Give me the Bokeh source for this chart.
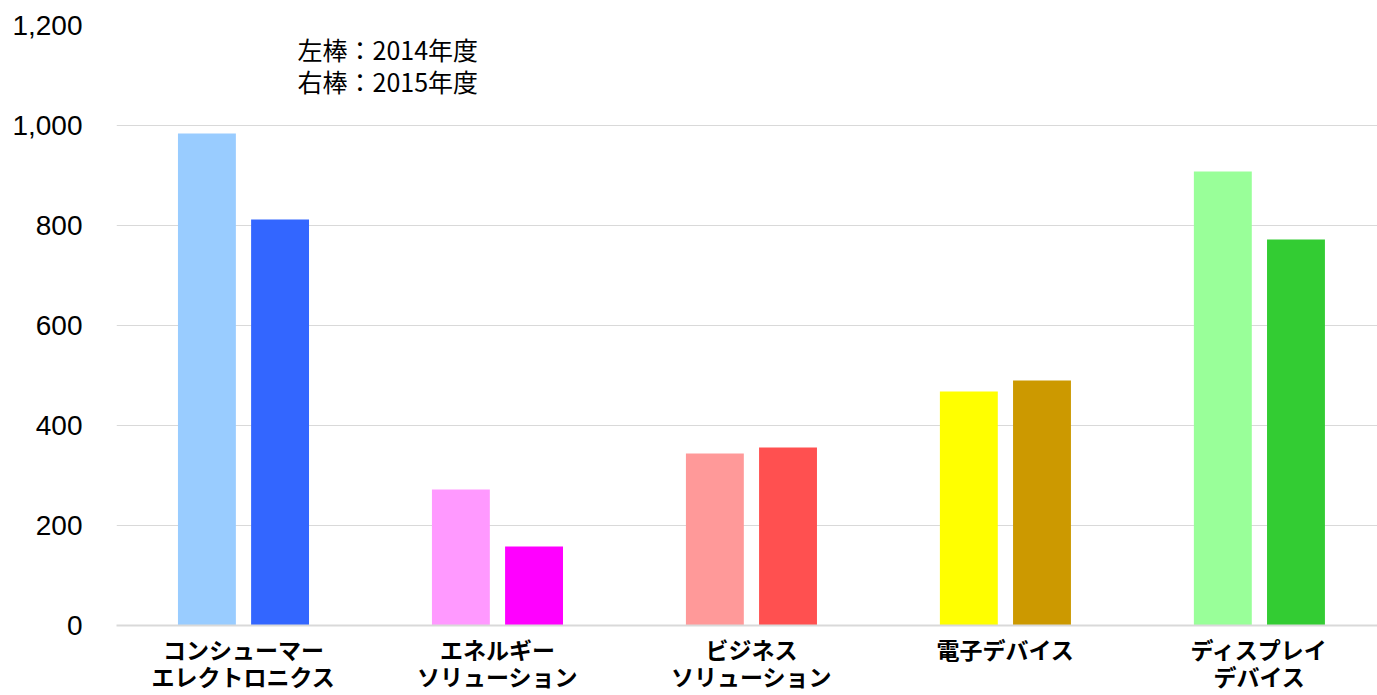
from bokeh.plotting import figure
from bokeh.models import Range1d, NumeralTickFormatter, Label, ColumnDataSource, FixedTicker
from bokeh.transform import dodge
from bokeh.embed import file_html
from bokeh.resources import INLINE

categories = ["コンシューマー\nエレクトロニクス", "エネルギー\nソリューション", "ビジネス\nソリューション", "電子デバイス", "ディスプレイ\nデバイス"]
v2014 = [984, 272, 344, 468, 908]
v2015 = [812, 158, 356, 490, 772]
c2014 = ["#99ccff", "#ff99ff", "#ff9999", "#ffff00", "#99ff99"]
c2015 = ["#3366ff", "#ff00ff", "#ff5050", "#cc9900", "#33cc33"]
yticks = [0, 200, 400, 600, 800, 1000, 1200]

xpos = [i + 0.5 for i in range(len(categories))]
src = ColumnDataSource(dict(x=xpos, v14=v2014, v15=v2015, c14=c2014, c15=c2015))

p = figure(width=1377, height=695, output_backend="svg", toolbar_location=None,
           x_range=Range1d(0, 4.965), y_range=Range1d(0, 1200))
p.min_border_left = 116
p.min_border_right = 0
p.min_border_top = 25
p.min_border_bottom = 70
p.outline_line_color = None
p.background_fill_color = "white"
p.border_fill_color = "white"

p.vbar(x=dodge("x", -0.144), top="v14", width=0.228, fill_color="c14", line_color=None, source=src)
p.vbar(x=dodge("x", 0.144), top="v15", width=0.228, fill_color="c15", line_color=None, source=src)

p.xgrid.grid_line_color = None
p.ygrid.grid_line_color = "#d9d9d9"
p.ygrid.grid_line_width = 1

p.yaxis.ticker = yticks
p.yaxis.formatter = NumeralTickFormatter(format="0,0")
p.yaxis.axis_line_color = None
p.yaxis.major_tick_line_color = None
p.yaxis.minor_tick_line_color = None
p.yaxis.major_label_text_font = "Liberation Sans"
p.yaxis.major_label_text_font_size = "28px"
p.yaxis.major_label_text_color = "#000000"
p.yaxis.major_label_standoff = 28

p.xaxis.ticker = FixedTicker(ticks=xpos, minor_ticks=[])
p.xaxis.major_label_overrides = {x: c for x, c in zip(xpos, categories)}
p.xaxis.axis_line_color = "#d9d9d9"
p.xaxis.axis_line_width = 2
p.xaxis.major_tick_line_color = None
p.xaxis.minor_tick_line_color = None
p.xaxis.major_label_text_font = "Noto Sans CJK JP"
p.xaxis.major_label_text_font_style = "bold"
p.xaxis.major_label_text_font_size = "23px"
p.xaxis.major_label_text_line_height = 0.8
p.xaxis.major_label_text_color = "#000000"
p.xaxis.major_label_standoff = 0

for txt, yv in [("左棒：2014年度", 1154), ("右棒：2015年度", 1090)]:
    p.add_layout(Label(x=0.713, y=yv, text=txt, text_font="Noto Sans CJK JP",
                       text_font_size="25px", text_color="#000000", text_baseline="middle"))

open("out.html", "w").write(file_html(p, INLINE))
